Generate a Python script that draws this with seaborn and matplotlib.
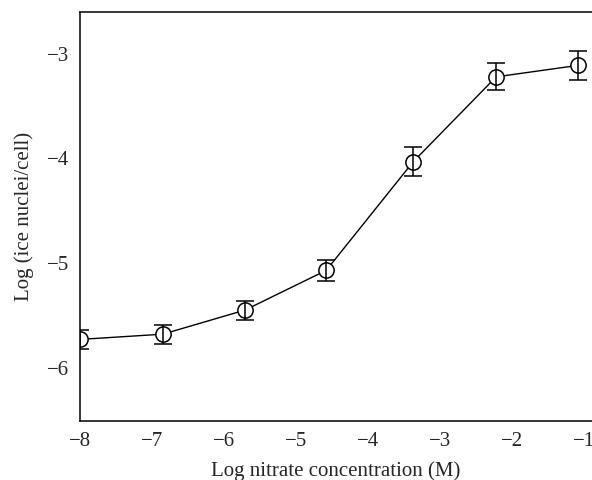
import matplotlib
matplotlib.use("Agg")
import matplotlib.pyplot as plt
import seaborn as sns
import pandas as pd

# values
log_nitrate = [-8.0, -6.85, -5.71, -4.58, -3.37, -2.22, -1.08]
log_nuclei = [-5.73, -5.68, -5.45, -5.07, -4.03, -3.22, -3.11]
err = [0.09, 0.09, 0.09, 0.10, 0.14, 0.13, 0.14]

df = pd.DataFrame({"x": log_nitrate, "y": log_nuclei, "err": err})

sns.set_style("ticks")
plt.rcParams["font.family"] = ["Liberation Serif", "DejaVu Serif"]
plt.rcParams["axes.unicode_minus"] = True

fig = plt.figure(figsize=(5.92, 4.8), dpi=100)
ax = fig.add_axes([80 / 592, 59 / 480, 512 / 592, 409 / 480])

sns.lineplot(data=df, x="x", y="y", ax=ax, color="black", linewidth=1.0,
             marker="o", markersize=11, markerfacecolor="white",
             markeredgecolor="black", markeredgewidth=1.1, zorder=2)
ax.errorbar(df["x"], df["y"], yerr=df["err"], fmt="none", ecolor="black",
            elinewidth=1.1, capsize=6.5, capthick=1.1, zorder=3)

ax.set_xlim(-8, -8 + 512 / 72)
ax.set_ylim(-6.51, -2.6)
ax.set_xticks([-8, -7, -6, -5, -4, -3, -2, -1])
ax.set_yticks([-6, -5, -4, -3])
ax.tick_params(length=0, labelsize=15, pad=8)

ax.set_xlabel("Log nitrate concentration (M)", fontsize=15, labelpad=7)
ax.set_ylabel("Log (ice nuclei/cell)", fontsize=15, labelpad=9)

for side in ["left", "bottom", "top"]:
    ax.spines[side].set_color("black")
    ax.spines[side].set_linewidth(1.1)
ax.spines["right"].set_visible(False)

fig.savefig("out.png", dpi=100)
